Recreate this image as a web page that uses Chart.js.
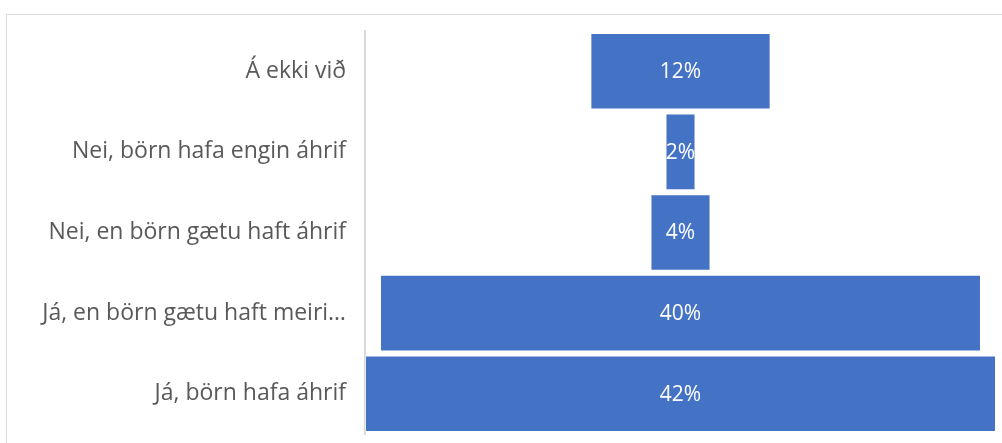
<!doctype html>
<html>
<head>
    <meta charset="UTF-8">
    <title>Funnel</title>
    <style>
        html, body { margin:0; padding:0; overflow:hidden; background:#fff; }
        #frame { position:absolute; left:6px; top:14px; right:0; bottom:0;
                 border-left:1px solid #d9d9d9; border-top:1px solid #d9d9d9; }
        #myCanvas { position:absolute; left:0; top:0; }
    </style>
</head>
<body>
<div id="frame"></div>
<canvas id="myCanvas" width="1002" height="443"></canvas>
<script src="https://cdn.jsdelivr.net/npm/chart.js@4.4.0/dist/chart.umd.min.js"></script>
<script>
    // values (top to bottom)
    var categories = [
        "Á ekki við",
        "Nei, börn hafa engin áhrif",
        "Nei, en börn gætu haft áhrif",
        "Já, en börn gætu haft meiri…",
        "Já, börn hafa áhrif"
    ];
    var values = [12, 2, 4, 40, 42];
    var valueLabels = ["12%", "2%", "4%", "40%", "42%"];

    var maxVal = Math.max.apply(null, values);
    var mid = maxVal / 2;
    // funnel: each bar floats centred on the middle of the axis
    var ranges = values.map(function(v){ return [mid - v / 2, mid + v / 2]; });

    var labelPlugin = {
        id: 'barLabels',
        afterDatasetsDraw: function(chart){
            var ctx = chart.ctx;
            var meta = chart.getDatasetMeta(0);
            ctx.save();
            ctx.fillStyle = '#ffffff';
            ctx.font = '21px "Open Sans"';
            ctx.textAlign = 'center';
            ctx.textBaseline = 'middle';
            meta.data.forEach(function(bar, i){
                var c = bar.getCenterPoint();
                ctx.fillText(valueLabels[i], c.x, c.y + 1);
            });
            ctx.restore();
        }
    };

    var ctx = document.getElementById('myCanvas').getContext('2d');
    var myChart = new Chart(ctx, {
        type: 'bar',
        data: {
            labels: categories,
            datasets: [{
                data: ranges,
                backgroundColor: '#4472c4',
                borderColor: 'rgba(255,255,255,0.45)',
                borderWidth: 1,
                borderSkipped: false,
                barPercentage: 0.95,
                categoryPercentage: 1
            }]
        },
        options: {
            indexAxis: 'y',
            responsive: false,
            animation: false,
            layout: { padding: { top: 31, bottom: 9, right: 6, left: 0 } },
            plugins: {
                legend: { display: false },
                tooltip: { enabled: false }
            },
            scales: {
                x: { display: false, min: 0, max: maxVal },
                y: {
                    afterFit: function(scale){
                        scale.width = 365;
                        scale.paddingTop = 0;
                        scale.paddingBottom = 0;
                    },
                    grid: { color: 'rgba(0,0,0,0)', drawTicks: false },
                    border: { display: true, color: '#d9d9d9', width: 2 },
                    ticks: {
                        color: '#595959',
                        padding: 19,
                        font: { family: '"Open Sans"', size: 23 }
                    }
                }
            }
        },
        plugins: [labelPlugin]
    });
</script>
</body>
</html>
